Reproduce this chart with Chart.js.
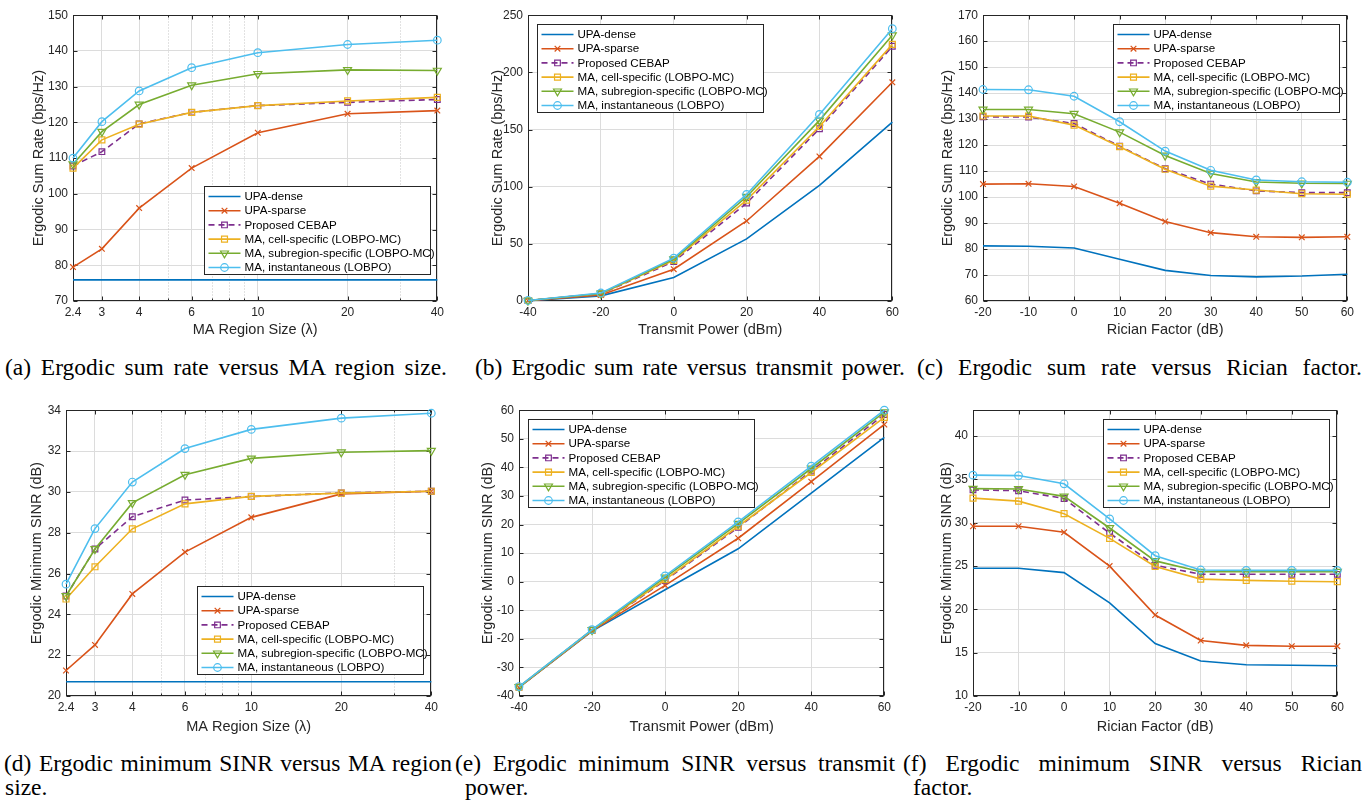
<!DOCTYPE html>
<html>
<head>
<meta charset="utf-8">
<title>Ergodic sum rate and minimum SINR</title>
<script src="https://cdn.jsdelivr.net/npm/chart.js@4.4.1/dist/chart.umd.min.js"></script>
<style>
  html, body { margin: 0; padding: 0; background: #fff; }
  body { width: 1369px; height: 800px; position: relative; overflow: hidden; }
  canvas { position: absolute; }
  .cap {
    position: absolute;
    font-family: "Liberation Serif", "Times New Roman", serif;
    font-size: 23.5px;
    line-height: 24px;
    color: #000;
    white-space: nowrap;
  }
  .just { white-space: normal; text-align: justify; text-align-last: justify; }
</style>
</head>
<body>
<canvas id="pa"></canvas>
<canvas id="pb"></canvas>
<canvas id="pc"></canvas>
<canvas id="pd"></canvas>
<canvas id="pe"></canvas>
<canvas id="pf"></canvas>

<div class="cap just" style="left:5px;top:355px;width:442px">(a) Ergodic sum rate versus MA region size.</div>
<div class="cap just" style="left:475px;top:355px;width:430px">(b) Ergodic sum rate versus transmit power.</div>
<div class="cap just" style="left:917px;top:355px;width:445px">(c) Ergodic sum rate versus Rician factor.</div>
<div class="cap just" style="left:4px;top:751px;width:448px">(d) Ergodic minimum SINR versus MA region</div>
<div class="cap" style="left:5px;top:775px">size.</div>
<div class="cap just" style="left:455px;top:751px;width:440px">(e) Ergodic minimum SINR versus transmit</div>
<div class="cap" style="left:465px;top:775px">power.</div>
<div class="cap just" style="left:903px;top:751px;width:459px">(f) Ergodic minimum SINR versus Rician</div>
<div class="cap" style="left:913px;top:775px">factor.</div>

<script>
// x values
const regionSize = [2.4, 3, 4, 6, 10, 20, 40];
const txPower = [-40, -20, 0, 20, 40, 60];
const ricianK = [-20, -10, 0, 10, 20, 30, 40, 50, 60];

// tick labels
const regionTicks = [2.4, 3, 4, 6, 10, 20, 40];
const regionMinor = [5, 7, 8, 9, 30];
const powerTicks = [-40, -20, 0, 20, 40, 60];
const ricianTicks = [-20, -10, 0, 10, 20, 30, 40, 50, 60];
const yTicksA = [70, 80, 90, 100, 110, 120, 130, 140, 150];
const yTicksB = [0, 50, 100, 150, 200, 250];
const yTicksC = [60, 70, 80, 90, 100, 110, 120, 130, 140, 150, 160, 170];
const yTicksD = [20, 22, 24, 26, 28, 30, 32, 34];
const yTicksE = [-40, -30, -20, -10, 0, 10, 20, 30, 40, 50, 60];
const yTicksF = [10, 15, 20, 25, 30, 35, 40];

const seriesNames = [
    "UPA-dense",
    "UPA-sparse",
    "Proposed CEBAP",
    "MA, cell-specific (LOBPO-MC)",
    "MA, subregion-specific (LOBPO-MC)",
    "MA, instantaneous (LOBPO)",
];

// (a) sum rate vs region size
const aDense = [75.9, 75.9, 75.9, 75.9, 75.9, 75.9, 75.9];
const aSparse = [79.5, 84.6, 96.0, 107.2, 117.1, 122.4, 123.3];
const aCebap = [107.8, 111.8, 119.6, 122.8, 124.7, 125.6, 126.4];
const aCell = [107.2, 115.1, 119.5, 122.8, 124.7, 126.0, 127.0];
const aSub = [108.3, 117.4, 125.0, 130.4, 133.6, 134.7, 134.5];
const aInst = [110.0, 120.2, 128.8, 135.3, 139.5, 141.8, 143.0];

// (b) sum rate vs transmit power
const bDense = [0.3, 4.5, 20.5, 54.3, 101.2, 156.5];
const bSparse = [0.3, 5.2, 27.8, 70.0, 126.5, 191.3];
const bCebap = [0.4, 6.2, 34.5, 85.6, 150.7, 222.8];
const bCell = [0.4, 6.3, 35.5, 88.3, 152.6, 224.5];
const bSub = [0.4, 6.6, 36.5, 91.2, 158.0, 232.5];
const bInst = [0.5, 7.0, 37.5, 93.2, 163.2, 238.2];

// (c) sum rate vs Rician factor
const cDense = [81.2, 81.1, 80.4, 76.1, 71.8, 69.8, 69.3, 69.6, 70.3];
const cSparse = [105.0, 105.1, 104.1, 97.6, 90.6, 86.3, 84.7, 84.5, 84.7];
const cCebap = [130.9, 130.8, 128.3, 119.6, 110.9, 105.0, 102.4, 101.7, 101.7];
const cCell = [131.2, 131.2, 127.7, 119.4, 110.7, 104.2, 102.7, 101.3, 101.1];
const cSub = [133.7, 133.7, 132.1, 125.0, 116.0, 109.1, 105.8, 105.3, 105.2];
const cInst = [141.4, 141.3, 138.8, 129.0, 117.7, 110.3, 106.6, 105.9, 105.7];

// (d) min SINR vs region size
const dDense = [20.7, 20.7, 20.7, 20.7, 20.7, 20.7, 20.7];
const dSparse = [21.25, 22.5, 25.0, 27.05, 28.75, 29.9, 30.03];
const dCebap = [24.9, 27.2, 28.78, 29.6, 29.77, 29.95, 30.03];
const dCell = [24.75, 26.33, 28.19, 29.41, 29.78, 29.94, 30.03];
const dSub = [24.9, 27.2, 29.46, 30.84, 31.64, 31.94, 32.02];
const dInst = [25.48, 28.2, 30.48, 32.12, 33.06, 33.61, 33.85];

// (e) min SINR vs transmit power
const eDense = [-37.0, -17.3, -2.8, 11.5, 31.0, 50.5];
const eSparse = [-37.0, -17.2, -1.3, 15.2, 35.0, 55.0];
const eCebap = [-36.9, -17.0, 0.4, 19.0, 38.7, 58.5];
const eCell = [-36.9, -17.0, 0.7, 19.4, 38.2, 57.5];
const eSub = [-36.8, -16.9, 1.5, 20.3, 39.6, 59.3];
const eInst = [-36.7, -16.8, 2.0, 20.9, 40.4, 60.0];

// (f) min SINR vs Rician factor
const fDense = [24.75, 24.75, 24.25, 20.75, 16.05, 14.05, 13.6, 13.55, 13.5];
const fSparse = [29.6, 29.6, 28.9, 25.0, 19.35, 16.4, 15.85, 15.75, 15.75];
const fCebap = [33.8, 33.7, 32.8, 28.8, 25.1, 24.05, 24.05, 24.05, 24.05];
const fCell = [32.85, 32.5, 31.05, 28.2, 24.95, 23.5, 23.35, 23.25, 23.2];
const fSub = [33.95, 33.9, 33.05, 29.4, 25.6, 24.35, 24.35, 24.35, 24.35];
const fInst = [35.5, 35.45, 34.5, 30.45, 26.2, 24.55, 24.5, 24.5, 24.5];

const FONT = "'Liberation Sans', Arial, Helvetica, sans-serif";
const TXT = "#262626";
const GRID = "#dcdcdc";

// MATLAB default colour order + markers
const STYLES = [
    { color: "#0072BD", point: false, r: 0 },
    { color: "#D95319", point: "crossRot", r: 4 },
    { color: "#7E2F8E", point: "rect", r: 4, dash: [6, 4] },
    { color: "#EDB120", point: "rect", r: 4.2 },
    { color: "#77AC30", point: "triangle", r: 4.6, rot: 180 },
    { color: "#4DBEEE", point: "circle", r: 3.8 },
];

/**
 * Draw a legend marker the same way Chart.js draws the point
 */
function legendMarker(ctx, st, x, y) {
    const r = st.r;
    ctx.beginPath();
    if (st.point === "circle") {
        ctx.arc(x, y, r, 0, Math.PI * 2);
    } else if (st.point === "rect") {
        const s = r * Math.SQRT1_2;
        ctx.rect(x - s, y - s, 2 * s, 2 * s);
    } else if (st.point === "triangle") {
        let rad = ((st.rot || 0) * Math.PI) / 180;
        for (let k = 0; k < 3; k++) {
            const px = x + Math.sin(rad) * r;
            const py = y - Math.cos(rad) * r;
            if (k === 0) ctx.moveTo(px, py);
            else ctx.lineTo(px, py);
            rad += (2 * Math.PI) / 3;
        }
        ctx.closePath();
    } else if (st.point === "crossRot") {
        const d = r * Math.SQRT1_2;
        ctx.moveTo(x - d, y - d);
        ctx.lineTo(x + d, y + d);
        ctx.moveTo(x + d, y - d);
        ctx.lineTo(x - d, y + d);
    }
    ctx.stroke();
}

/**
 * MATLAB-like axes: dotted minor grid, box, inward ticks, inset legend
 */
const matlabAxes = {
    id: "matlabAxes",
    beforeDatasetsDraw(chart, args, opts) {
        const ctx = chart.ctx;
        const a = chart.chartArea;
        const x = chart.scales.x;
        const y = chart.scales.y;
        const L = Math.round(a.left) + 0.5;
        const R = Math.round(a.right) - 0.5;
        const T = Math.round(a.top) + 0.5;
        const B = Math.round(a.bottom) - 0.5;
        const minor = opts.minorX || [];

        ctx.save();
        if (minor.length) {
            ctx.strokeStyle = "#c4c4c4";
            ctx.lineWidth = 1;
            ctx.setLineDash([1, 2]);
            minor.forEach(function (v) {
                const px = Math.round(x.getPixelForValue(v)) + 0.5;
                ctx.beginPath();
                ctx.moveTo(px, T);
                ctx.lineTo(px, B);
                ctx.stroke();
            });
            ctx.setLineDash([]);
        }

        ctx.strokeStyle = TXT;
        ctx.lineWidth = 1;
        ctx.strokeRect(L, T, R - L, B - T);

        ctx.beginPath();
        x.ticks.forEach(function (t) {
            const px = Math.round(x.getPixelForValue(t.value)) + 0.5;
            ctx.moveTo(px, B);
            ctx.lineTo(px, B - 4);
            ctx.moveTo(px, T);
            ctx.lineTo(px, T + 4);
        });
        minor.forEach(function (v) {
            const px = Math.round(x.getPixelForValue(v)) + 0.5;
            ctx.moveTo(px, B);
            ctx.lineTo(px, B - 2);
            ctx.moveTo(px, T);
            ctx.lineTo(px, T + 2);
        });
        y.ticks.forEach(function (t) {
            const py = Math.round(y.getPixelForValue(t.value)) + 0.5;
            ctx.moveTo(L, py);
            ctx.lineTo(L + 4, py);
            ctx.moveTo(R, py);
            ctx.lineTo(R - 4, py);
        });
        ctx.stroke();
        ctx.restore();
    },
    afterDatasetsDraw(chart, args, opts) {
        if (!opts.legend) return;
        const ctx = chart.ctx;
        const a = chart.chartArea;
        const bx = Math.round(a.left + opts.legend[0]) + 0.5;
        const by = Math.round(a.top + opts.legend[1]) + 0.5;
        const bw = 226;
        const bh = 88;

        ctx.save();
        ctx.fillStyle = "#fff";
        ctx.fillRect(bx, by, bw, bh);
        ctx.strokeStyle = TXT;
        ctx.lineWidth = 1;
        ctx.strokeRect(bx, by, bw, bh);

        ctx.font = "11.6px " + FONT;
        ctx.textBaseline = "middle";
        ctx.textAlign = "left";
        seriesNames.forEach(function (name, i) {
            const st = STYLES[i];
            const ly = by + 10 + i * 14.2;
            ctx.strokeStyle = st.color;
            ctx.lineWidth = 1.6;
            ctx.setLineDash(st.dash || []);
            ctx.beginPath();
            ctx.moveTo(bx + 4, ly);
            ctx.lineTo(bx + 36, ly);
            ctx.stroke();
            ctx.setLineDash([]);
            if (st.point) {
                ctx.lineWidth = 1.2;
                legendMarker(ctx, st, bx + 20, ly);
            }
            ctx.fillStyle = "#000";
            ctx.fillText(name, bx + 40, ly + 0.5);
        });
        ctx.restore();
    },
};
Chart.register(matlabAxes);

const PANELS = [
    {
        id: "pa", left: 11, top: 3, w: 437,
        xType: "logarithmic", xMin: 2.4, xMax: 40, xs: regionSize, xTicks: regionTicks, minorX: regionMinor,
        yMin: 70, yMax: 150, yTicks: yTicksA,
        series: [aDense, aSparse, aCebap, aCell, aSub, aInst],
        xTitle: "MA Region Size (\u03bb)", yTitle: "Ergodic Sum Rate (bps/Hz)",
        yPad: 19.3, xPad: 2.3, legend: [131, 171],
    },
    {
        id: "pb", left: 466, top: 3, w: 437,
        xType: "linear", xMin: -40, xMax: 60, xs: txPower, xTicks: powerTicks,
        yMin: 0, yMax: 250, yTicks: yTicksB,
        series: [bDense, bSparse, bCebap, bCell, bSub, bInst],
        xTitle: "Transmit Power (dBm)", yTitle: "Ergodic Sum Rate (bps/Hz)",
        yPad: 23.3, xPad: 2.3, legend: [9, 9],
    },
    {
        id: "pc", left: 921, top: 3, w: 437,
        xType: "linear", xMin: -20, xMax: 60, xs: ricianK, xTicks: ricianTicks,
        yMin: 60, yMax: 170, yTicks: yTicksC,
        series: [cDense, cSparse, cCebap, cCell, cSub, cInst],
        xTitle: "Rician Factor (dB)", yTitle: "Ergodic Sum Rate (bps/Hz)",
        yPad: 18.3, xPad: 2.3, legend: [130, 9],
    },
    {
        id: "pd", left: 4, top: 398, w: 438,
        xType: "logarithmic", xMin: 2.4, xMax: 40, xs: regionSize, xTicks: regionTicks, minorX: regionMinor,
        yMin: 20, yMax: 34, yTicks: yTicksD,
        series: [dDense, dSparse, dCebap, dCell, dSub, dInst],
        xTitle: "MA Region Size (\u03bb)", yTitle: "Ergodic Minimum SINR (dB)",
        yPad: 24.3, xPad: 0.3, legend: [131, 176],
    },
    {
        id: "pe", left: 457, top: 398, w: 438,
        xType: "linear", xMin: -40, xMax: 60, xs: txPower, xTicks: powerTicks,
        yMin: -40, yMax: 60, yTicks: yTicksE,
        series: [eDense, eSparse, eCebap, eCell, eSub, eInst],
        xTitle: "Transmit Power (dBm)", yTitle: "Ergodic Minimum SINR (dB)",
        yPad: 22.3, xPad: 0.3, legend: [9, 9],
    },
    {
        id: "pf", left: 911, top: 398, w: 437,
        xType: "linear", xMin: -20, xMax: 60, xs: ricianK, xTicks: ricianTicks,
        yMin: 10, yMax: 43, yTicks: yTicksF,
        series: [fDense, fSparse, fCebap, fCell, fSub, fInst],
        xTitle: "Rician Factor (dB)", yTitle: "Ergodic Minimum SINR (dB)",
        yPad: 27.3, xPad: 0.3, legend: [130, 9],
    },
];

/**
 * Build line datasets from the x array and the six series
 */
function makeDatasets(xs, series) {
    return series.map(function (ys, i) {
        const st = STYLES[i];
        return {
            label: seriesNames[i],
            data: xs.map(function (x, k) {
                return { x: x, y: ys[k] };
            }),
            borderColor: st.color,
            backgroundColor: st.color,
            borderWidth: 1.6,
            borderDash: st.dash || [],
            tension: 0,
            pointStyle: st.point || "circle",
            pointRadius: st.point ? st.r : 0,
            pointRotation: st.rot || 0,
            pointBorderColor: st.color,
            pointBackgroundColor: "rgba(255,255,255,0)",
            pointBorderWidth: 1.2,
            clip: false,
            order: 6 - i,
        };
    });
}

function buildPanel(p) {
    const canvas = document.getElementById(p.id);
    canvas.width = p.w;
    canvas.height = 338;
    canvas.style.left = p.left + "px";
    canvas.style.top = p.top + "px";

    const tickFont = { family: FONT, size: 12 };
    const titleFont = { family: FONT, size: 14.5 };

    new Chart(canvas.getContext("2d"), {
        type: "line",
        data: { datasets: makeDatasets(p.xs, p.series) },
        options: {
            responsive: false,
            animation: false,
            events: [],
            layout: { padding: { left: 0, right: 10, top: 10, bottom: 0 } },
            plugins: {
                legend: { display: false },
                tooltip: { enabled: false },
                matlabAxes: { minorX: p.minorX, legend: p.legend },
            },
            scales: {
                x: {
                    type: p.xType,
                    min: p.xMin,
                    max: p.xMax,
                    afterBuildTicks: function (s) {
                        s.ticks = p.xTicks.map(function (v) {
                            return { value: v };
                        });
                    },
                    afterFit: function (s) {
                        s.height = 40;
                    },
                    grid: { color: GRID, lineWidth: 1, drawTicks: false },
                    border: { display: false },
                    ticks: {
                        autoSkip: false,
                        maxRotation: 0,
                        padding: 4,
                        color: TXT,
                        font: tickFont,
                        callback: function (v) {
                            return String(v);
                        },
                    },
                    title: {
                        display: true,
                        text: p.xTitle,
                        color: TXT,
                        font: titleFont,
                        padding: { top: 0, bottom: p.xPad },
                    },
                },
                y: {
                    type: "linear",
                    min: p.yMin,
                    max: p.yMax,
                    afterBuildTicks: function (s) {
                        s.ticks = p.yTicks.map(function (v) {
                            return { value: v };
                        });
                    },
                    afterFit: function (s) {
                        s.width = 62;
                    },
                    grid: { color: GRID, lineWidth: 1, drawTicks: false },
                    border: { display: false },
                    ticks: {
                        padding: 5,
                        color: TXT,
                        font: tickFont,
                        callback: function (v) {
                            return String(v);
                        },
                    },
                    title: {
                        display: true,
                        text: p.yTitle,
                        color: TXT,
                        font: titleFont,
                        padding: { top: p.yPad, bottom: 0 },
                    },
                },
            },
        },
    });
}

PANELS.forEach(buildPanel);
</script>
</body>
</html>
